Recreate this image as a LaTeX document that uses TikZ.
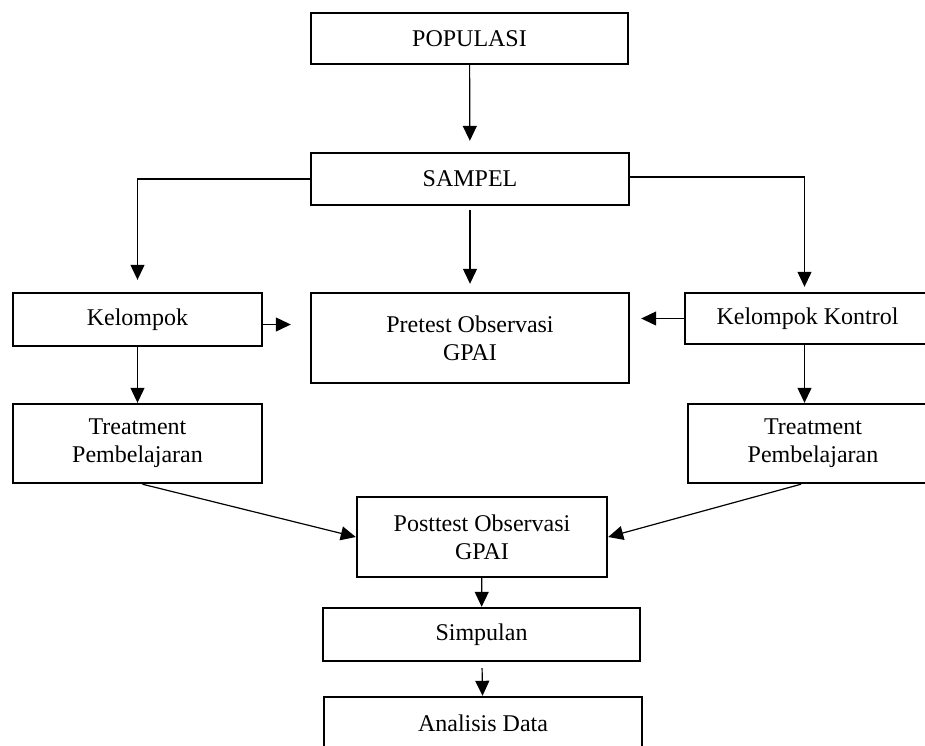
\documentclass[tikz,border=0pt]{standalone}
\usepackage{fontspec}
\setmainfont{Liberation Serif}
\usepackage{tikz}
\usetikzlibrary{arrows.meta, calc}

\begin{document}
\begin{tikzpicture}[x=0.5pt, y=-0.5pt,
    box/.style={draw, line width=1.2pt, align=center, inner sep=0pt,
        font=\fontsize{12}{14}\selectfont},
    arr/.style={line width=0.6pt, -{Triangle[length=7.5pt, width=7pt]}}]
\useasboundingbox (0,0) rectangle (925,745);

% Boxes
\node[box, minimum width=158.5pt, minimum height=25.5pt] (pop) at (469.5,38.5) {POPULASI};
\node[box, minimum width=159pt, minimum height=26pt] (sampel) at (470,179) {SAMPEL};
\node[box, minimum width=124.5pt, minimum height=26.5pt] (kel) at (137.5,319.5) {Kelompok};
\node[box, minimum width=159pt, minimum height=45pt] (pre) at (470,338) {Pretest Observasi\\GPAI};
\node[box, minimum width=122.5pt, minimum height=25.5pt] (kon) at (807.5,318.5) {Kelompok Kontrol};
\node[box, minimum width=124.5pt, minimum height=39.5pt] (treatL) at (137.5,443.5) {Treatment\\Pembelajaran};
\node[box, minimum width=125pt, minimum height=39.5pt] (treatR) at (813,443.5) {Treatment\\Pembelajaran};
\node[box, minimum width=125pt, minimum height=40pt] (post) at (482,537) {Posttest Observasi\\GPAI};
\node[box, minimum width=158.5pt, minimum height=26.5pt] (simp) at (481.5,634.5) {Simpulan};
\node[box, minimum width=159pt, minimum height=26.5pt] (anal) at (483,723.5) {Analisis Data};

% Arrows from the top
\draw[arr, shorten >=5.5pt] (pop) -- (sampel);
\draw[arr, shorten >=6pt] (sampel.west) -| (kel);
\draw[arr, shorten >=2.5pt] ([yshift=1pt]sampel.east) -| ([xshift=-1.5pt]kon.north);
\draw[arr, shorten <=2pt, shorten >=4pt] (sampel) -- (pre);

% Arrows into pretest
\draw[arr, shorten >=9.5pt] ([yshift=-2.5pt]kel.east) -- ([yshift=-2.5pt]kel.east -| pre.west);
\draw[arr, shorten >=5.5pt] (kon) -- (kon -| pre.east);

% Treatment
\draw[arr] (kel) -- (treatL);
\draw[arr] ([xshift=-1.5pt]kon.south) -- ([xshift=-1.5pt]kon.south |- treatR.north);
\draw[arr] ([xshift=2.5pt]treatL.south) -- (post.west);
\draw[arr] ([xshift=-6pt]treatR.south) -- (post.east);

% Bottom
\draw[arr] (post) -- (simp);
\draw[arr, shorten <=3pt] (simp) -- (anal);

\end{tikzpicture}
\end{document}
